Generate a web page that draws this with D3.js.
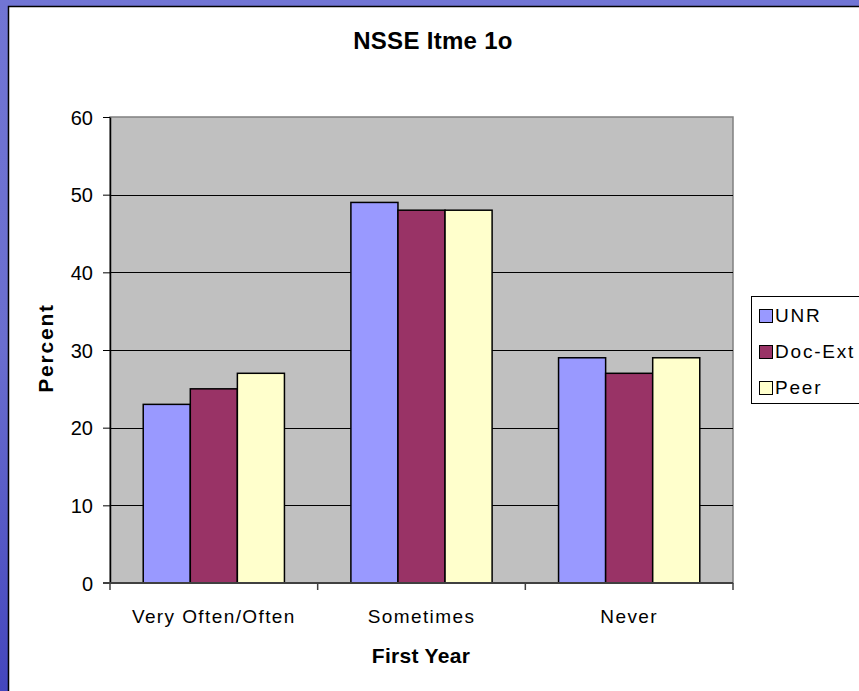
<!DOCTYPE html>
<html><head><meta charset="utf-8">
<script src="https://cdn.jsdelivr.net/npm/d3@7"></script>
<style>html,body{margin:0;padding:0;overflow:hidden;}svg{display:block;font-family:Arial,"Liberation Sans",sans-serif;}</style>
</head><body>
<svg id="c" width="859" height="691"></svg>
<script>
const categories = ["Very Often/Often", "Sometimes", "Never"];
const seriesNames = ["UNR", "Doc-Ext", "Peer"];
const seriesColors = ["#9999ff", "#993366", "#ffffcc"];
const UNR = [23, 49, 29];
const DocExt = [25, 48, 27];
const Peer = [27, 48, 29];
const yTicks = [0, 10, 20, 30, 40, 50, 60];
const title = "NSSE Itme 1o";
const xTitle = "First Year";
const yTitle = "Percent";

const values = [UNR, DocExt, Peer];
const svg = d3.select("#c");
const W = 859, H = 691;
const FONT = "Arial, 'Liberation Sans', sans-serif";

// background gradient frame
const defs = svg.append("defs");
const g1 = defs.append("linearGradient").attr("id","bg").attr("x1",0).attr("y1",0).attr("x2",0).attr("y2",1);
g1.append("stop").attr("offset","0%").attr("stop-color","#7175d4");
g1.append("stop").attr("offset","50%").attr("stop-color","#6a6ecf");
g1.append("stop").attr("offset","100%").attr("stop-color","#4446bd");
svg.append("rect").attr("width",W).attr("height",H).attr("fill","url(#bg)");
// white panel
svg.append("rect").attr("x",8.5).attr("y",6.5).attr("width",W).attr("height",H).attr("fill","#fff").attr("stroke","#000").attr("stroke-width",1.5);

const m = {l:110, r:733, t:117, b:583};
const x0 = d3.scaleBand().domain(categories).range([m.l, m.r]).paddingInner(0.32).paddingOuter(0.16);
const x1 = d3.scaleBand().domain(seriesNames).range([0, x0.bandwidth()]);
const y = d3.scaleLinear().domain([0, 60]).range([m.b, m.t]);

// plot area
svg.append("rect").attr("x",m.l).attr("y",m.t).attr("width",m.r-m.l).attr("height",m.b-m.t)
  .attr("fill","#c0c0c0").attr("stroke","#808080").attr("stroke-width",1.5);

// gridlines
svg.append("g").selectAll("line").data(yTicks.filter(t=>t>0 && t<60)).join("line")
  .attr("x1",m.l).attr("x2",m.r).attr("y1",d=>Math.round(y(d))+0.5).attr("y2",d=>Math.round(y(d))+0.5)
  .attr("stroke","#000").attr("stroke-width",1);

// bars
const grp = svg.append("g").selectAll("g").data(categories).join("g")
  .attr("transform",c=>`translate(${x0(c)},0)`);
grp.selectAll("rect").data((c,ci)=>seriesNames.map((s,si)=>({s, si, v: values[si][ci]}))).join("rect")
  .attr("x",d=>x1(d.s)).attr("width",x1.bandwidth())
  .attr("y",d=>y(d.v)).attr("height",d=>m.b-y(d.v))
  .attr("fill",d=>seriesColors[d.si]).attr("stroke","#000").attr("stroke-width",1.5);

// y axis
const yAxis = d3.axisLeft(y).tickValues(yTicks).tickSize(7).tickPadding(10).tickSizeOuter(0);
const ya = svg.append("g").attr("transform",`translate(${m.l},0)`).call(yAxis);
ya.attr("font-size",null).attr("font-family",null);
ya.select(".domain").attr("stroke","#000").attr("stroke-width",1.5);
ya.selectAll(".tick line").attr("stroke","#000");
ya.selectAll("text").style("font-size","20px").attr("fill","#000").style("font-family",FONT).attr("dy","0.36em");

// x axis
const xa = svg.append("g").attr("transform",`translate(0,${m.b})`).call(d3.axisBottom(x0).tickSize(0).tickPadding(0));
xa.attr("font-size",null).attr("font-family",null);
xa.select(".domain").remove();
xa.selectAll("text").attr("dy",null).attr("y",40).style("font-size","19px").attr("fill","#000").style("font-family",FONT).attr("letter-spacing","1.4px");
svg.append("line").attr("x1",m.l-7).attr("x2",m.r).attr("y1",m.b).attr("y2",m.b).attr("stroke","#404040").attr("stroke-width",2);
const bounds = [m.l, m.l+(m.r-m.l)/3, m.l+2*(m.r-m.l)/3, m.r];
svg.append("g").selectAll("line").data(bounds).join("line")
  .attr("x1",d=>d).attr("x2",d=>d).attr("y1",m.b).attr("y2",m.b+7).attr("stroke","#404040").attr("stroke-width",1.5);

// titles
svg.append("text").attr("x",433).attr("y",49).attr("text-anchor","middle").attr("font-weight","bold").style("font-size","24px").attr("letter-spacing","0.3px").text(title);
svg.append("text").attr("x",421).attr("y",663).attr("text-anchor","middle").attr("font-weight","bold").style("font-size","21px").attr("letter-spacing","0.3px").text(xTitle);
svg.append("text").attr("transform","translate(53,348) rotate(-90)").attr("text-anchor","middle").attr("font-weight","bold").style("font-size","21px").attr("letter-spacing","1.8px").text(yTitle);

// legend
const lg = svg.append("g");
lg.append("rect").attr("x",751.5).attr("y",296.5).attr("width",120).attr("height",107).attr("fill","#fff").attr("stroke","#000").attr("stroke-width",1);
const li = lg.selectAll("g").data(seriesNames).join("g").attr("transform",(d,i)=>`translate(759,${322+i*36})`);
li.append("rect").attr("x",0.5).attr("y",-12.5).attr("width",13).attr("height",13).attr("fill",(d,i)=>seriesColors[i]).attr("stroke","#000").attr("stroke-width",1);
li.append("text").attr("x",16).attr("y",0).style("font-size","19px").attr("letter-spacing","1.8px").text(d=>d);
</script>
</body></html>
